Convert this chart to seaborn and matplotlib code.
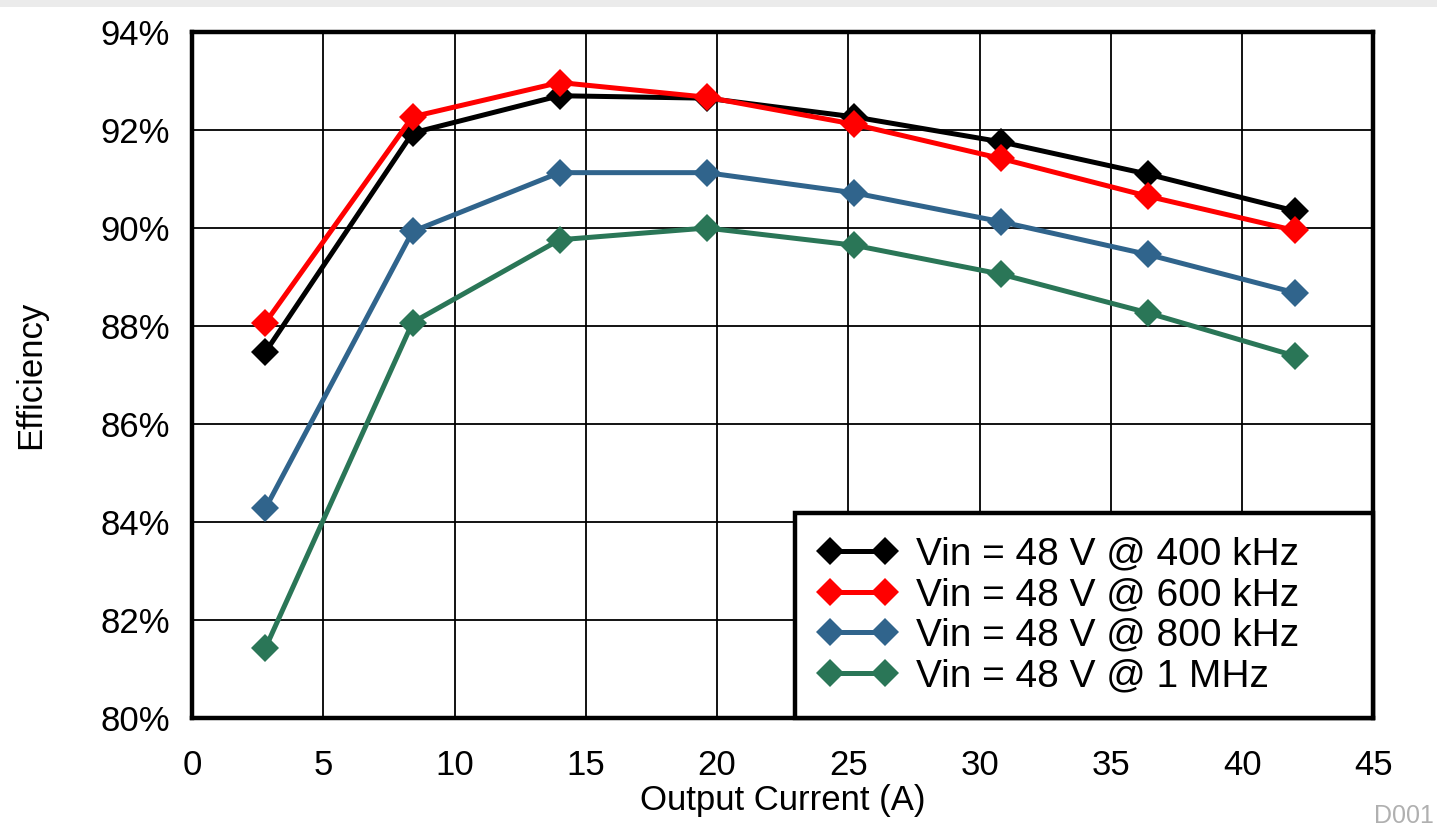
import matplotlib
matplotlib.use("Agg")
import matplotlib.pyplot as plt
import seaborn as sns
import pandas as pd
from matplotlib.ticker import FuncFormatter, MultipleLocator
from matplotlib.patches import Rectangle

current = [2.8, 8.4, 14.0, 19.6, 25.2, 30.8, 36.4, 42.0]
eff_400k = [87.47, 91.94, 92.70, 92.65, 92.27, 91.76, 91.10, 90.35]
eff_600k = [88.07, 92.27, 92.97, 92.67, 92.12, 91.42, 90.65, 89.95]
eff_800k = [84.28, 89.93, 91.13, 91.13, 90.72, 90.13, 89.46, 88.68]
eff_1M = [81.43, 88.07, 89.76, 90.00, 89.65, 89.06, 88.27, 87.39]

labels = ["Vin = 48 V @ 400 kHz", "Vin = 48 V @ 600 kHz",
          "Vin = 48 V @ 800 kHz", "Vin = 48 V @ 1 MHz"]
colors = ["#000000", "#FF0000", "#30648C", "#2A7657"]

rows = []
for lab, vals in zip(labels, [eff_400k, eff_600k, eff_800k, eff_1M]):
    for x, y in zip(current, vals):
        rows.append({"Output Current (A)": x, "Efficiency": y, "series": lab})
df = pd.DataFrame(rows)

sns.set_style("white")
plt.rcParams['font.family'] = ['Liberation Sans', 'DejaVu Sans']
plt.rcParams['text.color'] = 'black'
plt.rcParams['axes.labelcolor'] = 'black'

fig = plt.figure(figsize=(14.37, 8.30), dpi=100)
fig.patches.append(Rectangle((0, 1 - 7 / 830), 1, 7 / 830, transform=fig.transFigure,
                             facecolor="#EBEBEB", edgecolor="none", zorder=0))
ax = fig.add_axes([0.1336, 0.135, 0.8222, 0.8264])

sns.lineplot(data=df, x="Output Current (A)", y="Efficiency", hue="series",
             hue_order=labels, palette=colors, marker="D", markersize=14,
             linewidth=3.6, markeredgewidth=0, ax=ax, zorder=3)

ax.set_xlim(0, 45)
ax.set_ylim(80, 94)
ax.xaxis.set_major_locator(MultipleLocator(5))
ax.yaxis.set_major_locator(MultipleLocator(2))
ax.yaxis.set_major_formatter(FuncFormatter(lambda v, p: f"{v:.0f}%"))
ax.grid(True, color="black", linewidth=1.3)
ax.set_axisbelow(True)
for s in ax.spines.values():
    s.set_linewidth(3.2)
    s.set_color("black")
ax.tick_params(axis="both", labelsize=25, length=0, colors="black")
ax.tick_params(axis="y", pad=16)
ax.tick_params(axis="x", pad=22)
ax.set_xlabel("Output Current (A)", fontsize=25, labelpad=2)
ax.set_ylabel("Efficiency", fontsize=25, labelpad=38)

leg = ax.legend(loc="lower right", bbox_to_anchor=(0.5106, 0.0, 0.4894, 0.3), mode="expand",
                fontsize=28, frameon=True, fancybox=False, framealpha=1,
                edgecolor="black", borderaxespad=0, handlelength=2.0, numpoints=2,
                borderpad=0.6, labelspacing=0.12, handletextpad=0.5)
leg.get_frame().set_linewidth(3.2)
leg.set_title(None)

fig.text(0.998, 0.002, "D001", fontsize=18, color="#B0B0B0", ha="right", va="bottom")

fig.savefig("out.png", dpi=100, facecolor="white")
